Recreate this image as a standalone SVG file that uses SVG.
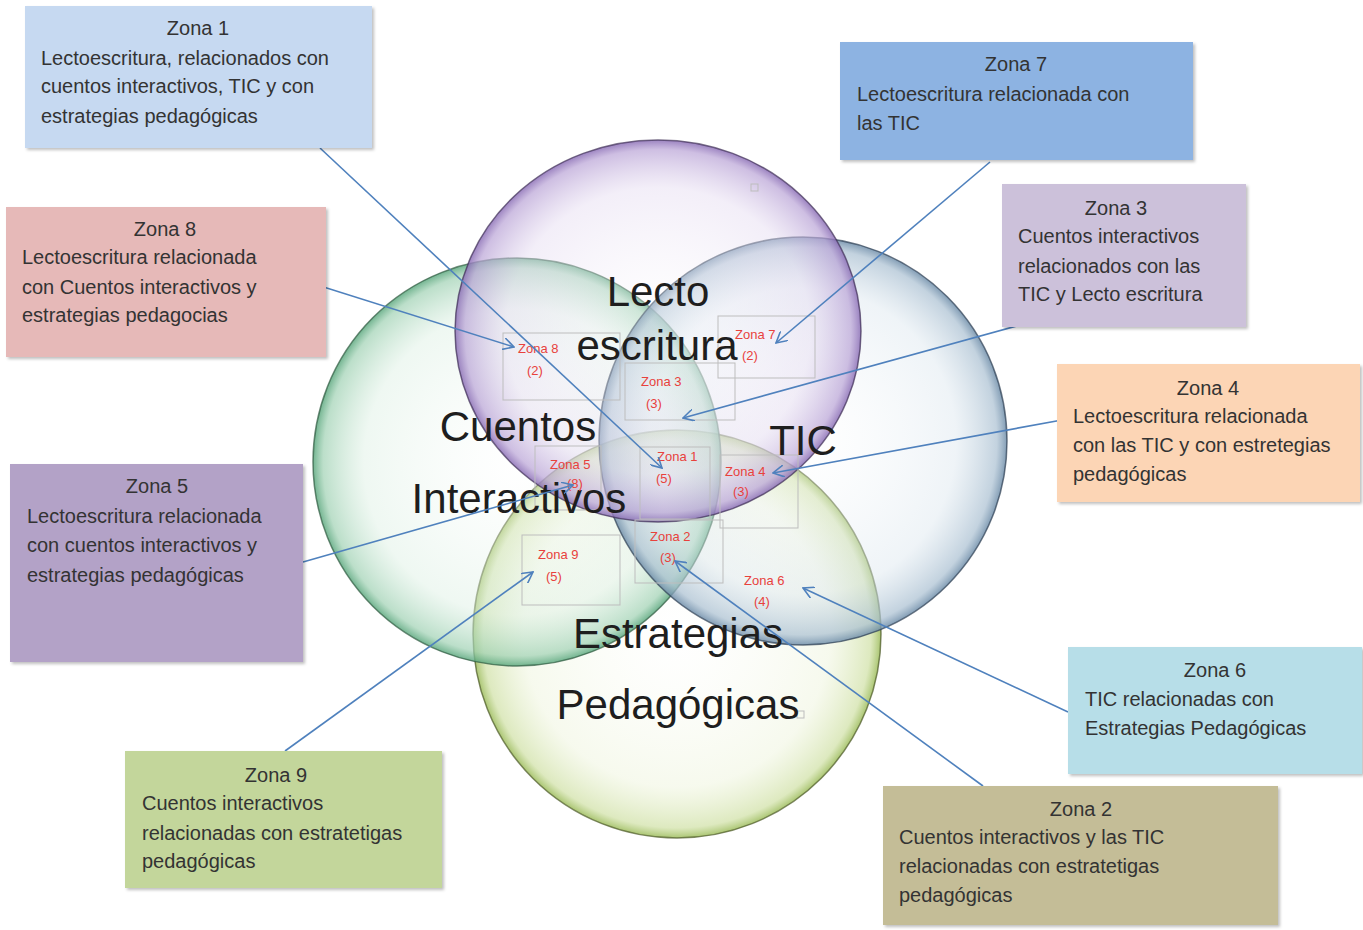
<svg xmlns="http://www.w3.org/2000/svg" width="1363" height="930" viewBox="0 0 1363 930">
<style>
.box{stroke:none;filter:url(#sh)}
.t{font-family:"Liberation Sans",Arial,sans-serif;font-size:20px;fill:#333}
.tc{text-anchor:middle}
.big{font-family:"Liberation Sans",Arial,sans-serif;font-size:42px;fill:#1e1e1e;text-anchor:middle}
.red{font-family:"Liberation Sans",Arial,sans-serif;font-size:13px;fill:#e8413c}
.gb{fill:none;stroke:#bdbdbd;stroke-width:1}
.con{stroke:#4f81bd;stroke-width:1.6;fill:none;marker-end:url(#ar)}
</style>
<defs>
<filter id="sh" x="-5%" y="-5%" width="115%" height="115%">
<feDropShadow dx="2" dy="2" stdDeviation="1.5" flood-color="#000" flood-opacity="0.25"/>
</filter>
<marker id="ar" viewBox="0 0 12 12" refX="11" refY="6" markerWidth="12" markerHeight="12" markerUnits="userSpaceOnUse" orient="auto">
<path d="M0,0 L11,6 L0,12" fill="none" stroke="#4f81bd" stroke-width="1.6"/>
</marker>
<radialGradient id="gL" cx="50%" cy="50%" r="50%">
<stop offset="0" stop-color="#ffffff" stop-opacity="0.25"/>
<stop offset="0.75" stop-color="#e4daf0" stop-opacity="0.45"/>
<stop offset="0.95" stop-color="#b9a3d6" stop-opacity="0.7"/>
<stop offset="1" stop-color="#8a6db5" stop-opacity="0.85"/>
</radialGradient>
<radialGradient id="gT" cx="50%" cy="50%" r="50%">
<stop offset="0" stop-color="#ffffff" stop-opacity="0.25"/>
<stop offset="0.75" stop-color="#dbe6ee" stop-opacity="0.45"/>
<stop offset="0.95" stop-color="#a9bfd1" stop-opacity="0.7"/>
<stop offset="1" stop-color="#6d8ca8" stop-opacity="0.85"/>
</radialGradient>
<radialGradient id="gC" cx="50%" cy="50%" r="50%">
<stop offset="0" stop-color="#ffffff" stop-opacity="0.25"/>
<stop offset="0.75" stop-color="#dbefe2" stop-opacity="0.45"/>
<stop offset="0.95" stop-color="#9fd1b3" stop-opacity="0.7"/>
<stop offset="1" stop-color="#5aa77d" stop-opacity="0.85"/>
</radialGradient>
<radialGradient id="gE" cx="50%" cy="50%" r="50%">
<stop offset="0" stop-color="#ffffff" stop-opacity="0.25"/>
<stop offset="0.75" stop-color="#eef4dc" stop-opacity="0.5"/>
<stop offset="0.95" stop-color="#cfe0a4" stop-opacity="0.7"/>
<stop offset="1" stop-color="#9bbb59" stop-opacity="0.85"/>
</radialGradient>
</defs>
<rect width="1363" height="930" fill="#ffffff"/>

<g id="circles">
<circle id="c-estrategias" cx="677" cy="634" r="204" fill="url(#gE)" stroke="#4d5a2a" stroke-width="1.5" stroke-opacity="0.7"/>
<circle id="c-cuentos" cx="517" cy="462" r="204" fill="url(#gC)" stroke="#2f5a40" stroke-width="1.5" stroke-opacity="0.7"/>
<circle id="c-tic" cx="803" cy="441" r="204" fill="url(#gT)" stroke="#2e3f52" stroke-width="1.5" stroke-opacity="0.7"/>
<ellipse id="c-lecto" cx="658" cy="331" rx="203" ry="191" fill="url(#gL)" stroke="#3e2f55" stroke-width="1.5" stroke-opacity="0.7"/>
</g>

<g id="inner-boxes">
<rect class="gb" x="503" y="333" width="117" height="67"/>
<rect class="gb" x="718" y="316" width="97" height="62"/>
<rect class="gb" x="625" y="363" width="110" height="57"/>
<rect class="gb" x="535" y="446" width="66" height="64"/>
<rect class="gb" x="640" y="447" width="70" height="72"/>
<rect class="gb" x="720" y="455" width="78" height="73"/>
<rect class="gb" x="522" y="535" width="98" height="70"/>
<rect class="gb" x="635" y="520" width="88" height="63"/>
<rect class="gb" x="751" y="184" width="7" height="7"/>
<rect class="gb" x="797" y="711" width="7" height="7"/>
</g>

<g id="big-labels">
<text class="big" x="658" y="306">Lecto</text>
<text class="big" x="657" y="360">escritura</text>
<text class="big" x="518" y="441">Cuentos</text>
<text class="big" x="519" y="513">Interactivos</text>
<text class="big" x="803" y="455">TIC</text>
<text class="big" x="678" y="648">Estrategias</text>
<text class="big" x="678" y="719">Pedagógicas</text>
</g>

<g id="zone-labels">
<text class="red" x="518" y="353">Zona 8</text><text class="red" x="527" y="375">(2)</text>
<text class="red" x="735" y="339">Zona 7</text><text class="red" x="742" y="360">(2)</text>
<text class="red" x="641" y="386">Zona 3</text><text class="red" x="646" y="408">(3)</text>
<text class="red" x="657" y="461">Zona 1</text><text class="red" x="656" y="483">(5)</text>
<text class="red" x="550" y="469">Zona 5</text><text class="red" x="567" y="488">(8)</text>
<text class="red" x="725" y="476">Zona 4</text><text class="red" x="733" y="496">(3)</text>
<text class="red" x="650" y="541">Zona 2</text><text class="red" x="660" y="562">(3)</text>
<text class="red" x="538" y="559">Zona 9</text><text class="red" x="546" y="581">(5)</text>
<text class="red" x="744" y="585">Zona 6</text><text class="red" x="754" y="606">(4)</text>
</g>

<g id="connectors">
<line class="con" x1="320" y1="148" x2="662" y2="468"/>
<line class="con" x1="990" y1="162" x2="776" y2="343"/>
<line class="con" x1="295" y1="278" x2="514" y2="347"/>
<line class="con" x1="1020" y1="325" x2="683" y2="418"/>
<line class="con" x1="1062" y1="420" x2="773" y2="473"/>
<line class="con" x1="303" y1="562" x2="573" y2="485"/>
<line class="con" x1="285" y1="751" x2="533" y2="572"/>
<line class="con" x1="983" y1="786" x2="675" y2="561"/>
<line class="con" x1="1068" y1="712" x2="803" y2="588"/>
</g>

<g id="zona1">
<rect class="box" x="25" y="6" width="347" height="142" fill="#c6d9f1"/>
<text class="t tc" x="198" y="35">Zona 1</text>
<text class="t" x="41" y="65">Lectoescritura, relacionados con</text>
<text class="t" x="41" y="93">cuentos interactivos, TIC y con</text>
<text class="t" x="41" y="123">estrategias pedagógicas</text>
</g>
<g id="zona7">
<rect class="box" x="840" y="42" width="353" height="118" fill="#8db3e2"/>
<text class="t tc" x="1016" y="71">Zona 7</text>
<text class="t" x="857" y="101">Lectoescritura relacionada con</text>
<text class="t" x="857" y="130">las TIC</text>
</g>
<g id="zona8">
<rect class="box" x="6" y="207" width="320" height="150" fill="#e6b9b8"/>
<text class="t tc" x="165" y="236">Zona 8</text>
<text class="t" x="22" y="264">Lectoescritura relacionada</text>
<text class="t" x="22" y="294">con Cuentos interactivos y</text>
<text class="t" x="22" y="322">estrategias pedagocias</text>
</g>
<g id="zona3">
<rect class="box" x="1002" y="184" width="244" height="143" fill="#ccc1da"/>
<text class="t tc" x="1116" y="215">Zona 3</text>
<text class="t" x="1018" y="243">Cuentos interactivos</text>
<text class="t" x="1018" y="273">relacionados con las</text>
<text class="t" x="1018" y="301">TIC y Lecto escritura</text>
</g>
<g id="zona4">
<rect class="box" x="1057" y="364" width="303" height="138" fill="#fcd5b5"/>
<text class="t tc" x="1208" y="395">Zona 4</text>
<text class="t" x="1073" y="423">Lectoescritura relacionada</text>
<text class="t" x="1073" y="452">con las TIC y con estretegias</text>
<text class="t" x="1073" y="481">pedagógicas</text>
</g>
<g id="zona5">
<rect class="box" x="10" y="464" width="293" height="198" fill="#b3a2c7"/>
<text class="t tc" x="157" y="493">Zona 5</text>
<text class="t" x="27" y="523">Lectoescritura relacionada</text>
<text class="t" x="27" y="552">con cuentos interactivos y</text>
<text class="t" x="27" y="582">estrategias pedagógicas</text>
</g>
<g id="zona6">
<rect class="box" x="1068" y="647" width="294" height="127" fill="#b7dee8"/>
<text class="t tc" x="1215" y="677">Zona 6</text>
<text class="t" x="1085" y="706">TIC relacionadas con</text>
<text class="t" x="1085" y="735">Estrategias Pedagógicas</text>
</g>
<g id="zona9">
<rect class="box" x="125" y="751" width="317" height="137" fill="#c3d69b"/>
<text class="t tc" x="276" y="782">Zona 9</text>
<text class="t" x="142" y="810">Cuentos interactivos</text>
<text class="t" x="142" y="840">relacionadas con estratetigas</text>
<text class="t" x="142" y="868">pedagógicas</text>
</g>
<g id="zona2">
<rect class="box" x="883" y="786" width="395" height="139" fill="#c4bd97"/>
<text class="t tc" x="1081" y="816">Zona 2</text>
<text class="t" x="899" y="844">Cuentos interactivos y las TIC</text>
<text class="t" x="899" y="873">relacionadas con estratetigas</text>
<text class="t" x="899" y="902">pedagógicas</text>
</g>
</svg>
